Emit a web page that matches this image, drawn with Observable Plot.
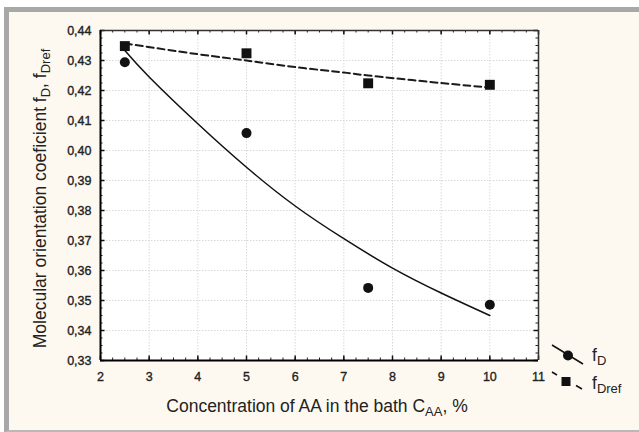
<!DOCTYPE html>
<html>
<head>
<meta charset="utf-8">
<script src="https://cdn.jsdelivr.net/npm/d3@7"></script>
<script src="https://cdn.jsdelivr.net/npm/@observablehq/plot@0.6"></script>
<style>
  html, body { margin: 0; padding: 0; background: #fff; }
  #wrap { position: relative; width: 639px; height: 432px; overflow: hidden; background: #fff; }
  #panel { position: absolute; left: 4px; top: 7px; right: 0; bottom: 0; box-sizing: border-box;
           background: #fdf9f1; border-left: 5px solid #a8a8a8; border-top: 5px solid #a8a8a8; border-bottom: 2px solid #b8b8b8; }
  #chart { position: absolute; left: 0; top: 0; width: 639px; height: 432px; }
  svg text { font-family: "Liberation Sans", Arial, sans-serif; }
  g[aria-label$="tick label"] text { font-size: 12.5px; stroke: #222; stroke-width: 0.35px; }
</style>
</head>
<body>
<div id="wrap"><div id="panel"></div><div id="chart"></div></div>
<script>
// ---- data ----
const conc = [2.5, 5, 7.5, 10];
const fD = [0.4294, 0.4058, 0.3542, 0.3486];
const fDref = [0.4348, 0.4324, 0.4224, 0.4219];

// fitted curves as drawn
const fitDx = [2.5, 3, 4, 5, 6, 7, 8, 9, 10];
const fitDy = [0.4333, 0.4245, 0.4089, 0.3944, 0.3815, 0.3706, 0.3608, 0.3525, 0.3450];
const fitRefx = [2.5, 4, 5, 6, 7, 7.5, 9, 10];
const fitRefy = [0.4357, 0.4321, 0.4300, 0.4278, 0.4260, 0.4250, 0.4225, 0.4210];

const xTicks = [2, 3, 4, 5, 6, 7, 8, 9, 10, 11];
const yTicks = [0.33, 0.34, 0.35, 0.36, 0.37, 0.38, 0.39, 0.40, 0.41, 0.42, 0.43, 0.44];
const xMinor = d3.range(2, 11.001, 0.25);
const yMinor = d3.range(0.33, 0.44001, 0.0025);

const ptsD = conc.map((x, i) => ({x, y: fD[i]}));
const ptsRef = conc.map((x, i) => ({x, y: fDref[i]}));
const lineD = fitDx.map((x, i) => ({x, y: fitDy[i]}));
const lineRef = fitRefx.map((x, i) => ({x, y: fitRefy[i]}));

const W = 639, H = 432;
const mL = 100, mR = 101, mT = 30, mB = 72;
const innerW = W - mL - mR, innerH = H - mT - mB;
const fmtY = d => d3.format(".2f")(d).replace(".", ",");

const plot = Plot.plot({
  width: W, height: H,
  marginLeft: mL, marginRight: mR, marginTop: mT, marginBottom: mB,
  style: {background: "transparent", fontFamily: "Liberation Sans, Arial, sans-serif"},
  x: {domain: [2, 11]},
  y: {domain: [0.33, 0.44]},
  marks: [
    Plot.frame({fill: "white", stroke: "none"}),
    Plot.gridX(xTicks, {stroke: "#d8d8d8", strokeOpacity: 1, strokeDasharray: "1.5,1.5"}),
    Plot.gridY(yTicks, {stroke: "#d8d8d8", strokeOpacity: 1, strokeDasharray: "1.5,1.5"}),
    // minor ticks (inward)
    Plot.tickX(xMinor, {x: d => d, insetTop: innerH - 2.5, stroke: "#222"}),
    Plot.tickX(xMinor, {x: d => d, insetBottom: innerH - 2.5, stroke: "#222"}),
    Plot.tickY(yMinor, {y: d => d, insetRight: innerW - 2.5, stroke: "#222"}),
    Plot.tickY(yMinor, {y: d => d, insetLeft: innerW - 2.5, stroke: "#222"}),
    // major ticks (inward)
    Plot.tickX(xTicks, {x: d => d, insetTop: innerH - 4.5, stroke: "#111", strokeWidth: 1.5}),
    Plot.tickX(xTicks, {x: d => d, insetBottom: innerH - 4.5, stroke: "#111", strokeWidth: 1.5}),
    Plot.tickY(yTicks, {y: d => d, insetRight: innerW - 4.5, stroke: "#111", strokeWidth: 1.5}),
    Plot.tickY(yTicks, {y: d => d, insetLeft: innerW - 4.5, stroke: "#111", strokeWidth: 1.5}),
    // frame lines
    Plot.ruleY([0.44], {stroke: "#333", strokeWidth: 1.5}),
    Plot.ruleX([11], {stroke: "#333", strokeWidth: 1.5}),
    Plot.ruleY([0.33], {stroke: "#000", strokeWidth: 2}),
    Plot.ruleX([2], {stroke: "#000", strokeWidth: 2}),
    // axes labels
    Plot.axisX(xTicks, {tickSize: 0, tickPadding: 12, fontSize: 12.5, fill: "#222", label: null, tickFormat: d => String(d)}),
    Plot.axisY(yTicks, {tickSize: 0, tickPadding: 9, fontSize: 12.5, fill: "#222", label: null, tickFormat: fmtY}),
    // fitted curves
    Plot.line(lineRef, {x: "x", y: "y", curve: "natural", stroke: "#1a1a1a", strokeWidth: 2, strokeDasharray: "7,4"}),
    Plot.line(lineD, {x: "x", y: "y", curve: "natural", stroke: "#111", strokeWidth: 1.5}),
    // data points
    Plot.dot(ptsD, {x: "x", y: "y", r: 5, fill: "#111", stroke: "none"}),
    Plot.dot(ptsRef, {x: "x", y: "y", r: 5.6, symbol: "square", fill: "#111", stroke: "none"})
  ]
});
document.getElementById("chart").appendChild(plot);

// ---- axis titles and legend with subscripts ----
const svg = d3.select(plot);
const tcol = "#222";

// X title
const xt = svg.append("text").attr("x", 317).attr("y", 412).attr("text-anchor", "middle")
  .attr("font-size", 17.5).attr("fill", tcol);
xt.append("tspan").text("Concentration of AA in the bath C");
xt.append("tspan").attr("font-size", 13).attr("dy", 4).text("AA");
xt.append("tspan").attr("dy", -4).text(", %");

// Y title
const yt = svg.append("text").attr("transform", "translate(46,198.5) rotate(-90)").attr("text-anchor", "middle")
  .attr("font-size", 17.5).attr("fill", tcol);
yt.append("tspan").text("Molecular orientation coeficient f");
yt.append("tspan").attr("font-size", 13).attr("dy", 4).text("D");
yt.append("tspan").attr("dy", -4).text(", f");
yt.append("tspan").attr("font-size", 13).attr("dy", 4).text("Dref");

// Legend
const lg = svg.append("g");
lg.append("line").attr("x1", 552).attr("y1", 345).attr("x2", 583).attr("y2", 364).attr("stroke", "#111").attr("stroke-width", 1.5);
lg.append("circle").attr("cx", 568).attr("cy", 355.5).attr("r", 5).attr("fill", "#111");
lg.append("line").attr("x1", 552).attr("y1", 372).attr("x2", 557).attr("y2", 375).attr("stroke", "#111").attr("stroke-width", 1.5);
lg.append("line").attr("x1", 576).attr("y1", 385.5).attr("x2", 582).attr("y2", 389).attr("stroke", "#111").attr("stroke-width", 1.5);
lg.append("rect").attr("x", 561.5).attr("y", 377).attr("width", 9).attr("height", 9).attr("fill", "#111");
const l1 = lg.append("text").attr("x", 592).attr("y", 361).attr("text-anchor", "start").attr("font-size", 17.5).attr("fill", tcol);
l1.append("tspan").text("f");
l1.append("tspan").attr("font-size", 13).attr("dy", 4).text("D");
const l2 = lg.append("text").attr("x", 592).attr("y", 389).attr("text-anchor", "start").attr("font-size", 17.5).attr("fill", tcol);
l2.append("tspan").text("f");
l2.append("tspan").attr("font-size", 13).attr("dy", 4).text("Dref");
</script>
</body>
</html>
